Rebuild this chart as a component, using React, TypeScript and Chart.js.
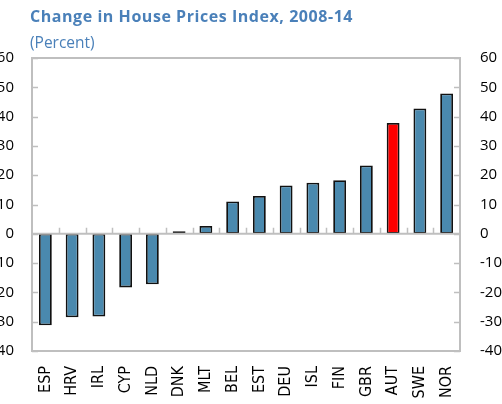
import React, { useEffect, useRef } from "react";
import { Chart, registerables } from "chart.js";
Chart.register(...registerables);

const categories = ["ESP", "HRV", "IRL", "CYP", "NLD", "DNK", "MLT", "BEL", "EST", "DEU", "ISL", "FIN", "GBR", "AUT", "SWE", "NOR"];
const values = [-31.2, -28.5, -28.2, -18.3, -17.2, 0.9, 2.7, 11.0, 12.9, 16.5, 17.4, 18.3, 23.3, 37.8, 42.8, 47.9];
const highlighted = ["AUT"];
const yMin = -40;
const yMax = 60;
const yStep = 10;

const titleText = "Change in House Prices Index, 2008-14";
const subtitleText = "(Percent)";

const BAR_COLOR = "#4a89ae";
const HIGHLIGHT_COLOR = "#ff0000";
const FRAME_COLOR = "#bfbfbf";
const TITLE_COLOR = "#4a80b9";
const FONT = "'Open Sans', 'Noto Sans', sans-serif";
const NARROW_FONT = "'Liberation Sans Narrow', 'DejaVu Sans Condensed', 'Open Sans', sans-serif";

const OFFSET = 30;

const framePlugin = {
  id: "frame",
  afterDatasetsDraw(chart: any) {
    const { ctx, chartArea: a, scales } = chart;
    const y = scales.y;
    const x = scales.x;
    ctx.save();
    ctx.strokeStyle = FRAME_COLOR;
    ctx.lineWidth = 2;
    ctx.strokeRect(a.left, a.top, a.right - a.left, a.bottom - a.top);
    const y0 = y.getPixelForValue(0);
    ctx.beginPath();
    ctx.moveTo(a.left, y0);
    ctx.lineTo(a.right, y0);
    ctx.stroke();
    ctx.lineWidth = 1.5;
    ctx.beginPath();
    y.ticks.forEach((t: any) => {
      const py = Math.round(y.getPixelForValue(t.value)) + 0.5;
      ctx.moveTo(a.left, py);
      ctx.lineTo(a.left + 6, py);
      ctx.moveTo(a.right, py);
      ctx.lineTo(a.right - 6, py);
    });
    for (let i = 1; i < categories.length; i++) {
      const px = Math.round((x.getPixelForValue(i - 1) + x.getPixelForValue(i)) / 2) + 0.5;
      ctx.moveTo(px, y0);
      ctx.lineTo(px, y0 - 6);
    }
    ctx.stroke();
    ctx.restore();
  },
};

export default function App() {
  const ref = useRef<HTMLCanvasElement | null>(null);
  useEffect(() => {
    if (!ref.current) return;
    const tickFont = { family: FONT, size: 15 };
    const chart = new Chart(ref.current, {
      type: "bar",
      data: {
        labels: categories,
        datasets: [
          {
            data: values,
            backgroundColor: categories.map((c) => (highlighted.includes(c) ? HIGHLIGHT_COLOR : BAR_COLOR)),
            borderColor: "#111111",
            borderWidth: 1.8,
            borderSkipped: false,
            categoryPercentage: 1,
            barPercentage: 0.48,
          },
        ],
      },
      options: {
        animation: false,
        responsive: false,
        maintainAspectRatio: false,
        layout: { padding: { top: 58, left: 0, right: 0, bottom: 0 } },
        plugins: { legend: { display: false }, tooltip: { enabled: false }, title: { display: false } },
        scales: {
          x: {
            position: "bottom",
            grid: { display: false, drawTicks: false },
            border: { display: false },
            ticks: {
              autoSkip: false,
              minRotation: 90,
              maxRotation: 90,
              padding: 15,
              color: "#000",
              font: { family: NARROW_FONT, size: 16 },
            },
            afterFit(s: any) {
              s.height = 53;
            },
          },
          y: {
            position: "left",
            min: yMin,
            max: yMax,
            grid: { display: false, drawTicks: false },
            border: { display: false },
            ticks: { stepSize: yStep, padding: 18, color: "#000", font: tickFont },
            afterFit(s: any) {
              s.width = 62;
            },
          },
          y2: {
            position: "right",
            min: yMin,
            max: yMax,
            grid: { display: false, drawTicks: false },
            border: { display: false },
            ticks: { stepSize: yStep, padding: 20, color: "#000", font: tickFont },
            afterFit(s: any) {
              s.width = 72;
            },
          },
        },
      },
      plugins: [framePlugin],
    } as any);
    return () => chart.destroy();
  }, []);

  return (
    <div style={{ position: "absolute", left: 0, top: 0, width: 502, height: 404, overflow: "hidden", background: "#fff" }}>
      <canvas ref={ref} width={502 + 2 * OFFSET} height={404} style={{ position: "absolute", left: -OFFSET, top: 0, width: 502 + 2 * OFFSET, height: 404 }} />
      <div style={{ position: "absolute", left: 30, top: 6, fontFamily: FONT, fontWeight: 700, fontSize: 16, letterSpacing: "0.55px", lineHeight: "20px", color: TITLE_COLOR, whiteSpace: "nowrap" }}>
        {titleText}
      </div>
      <div style={{ position: "absolute", left: 30, top: 32, fontFamily: FONT, fontSize: 15.5, lineHeight: "20px", color: TITLE_COLOR, whiteSpace: "nowrap" }}>
        {subtitleText}
      </div>
    </div>
  );
}
